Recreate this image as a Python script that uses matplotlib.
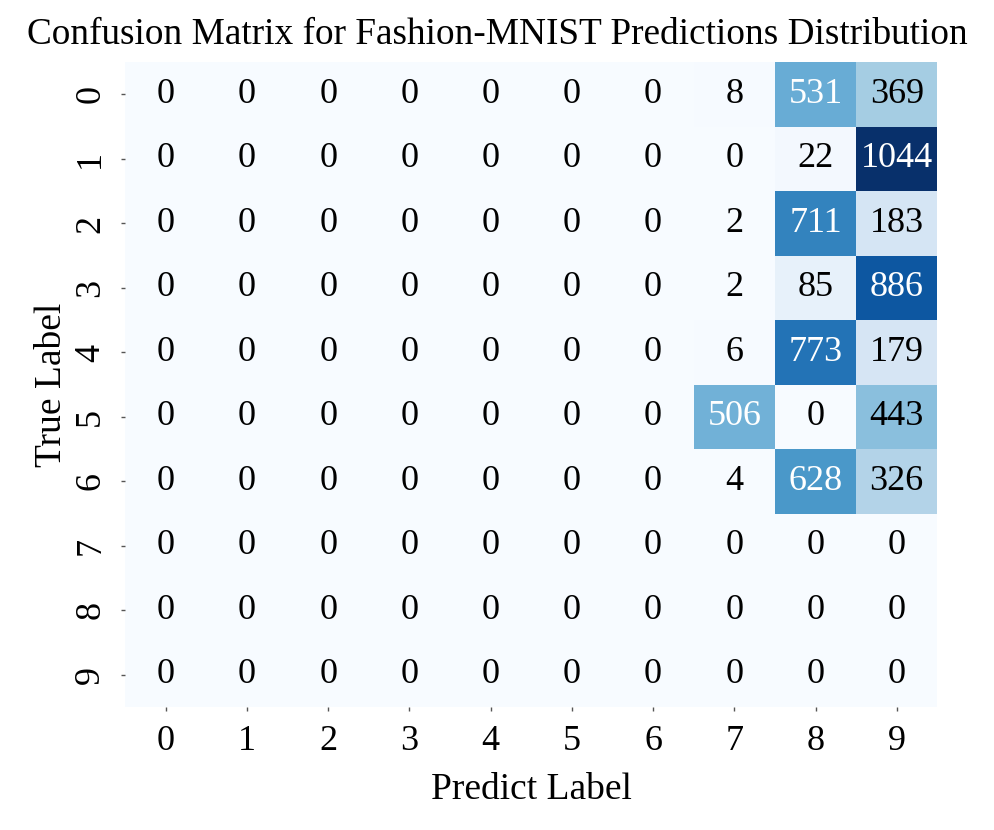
import numpy as np
import matplotlib
matplotlib.use("Agg")
import matplotlib.pyplot as plt
import seaborn as sns

labels = [str(i) for i in range(10)]
cm = np.array([
    [0, 0, 0, 0, 0, 0, 0, 8, 531, 369],
    [0, 0, 0, 0, 0, 0, 0, 0, 22, 1044],
    [0, 0, 0, 0, 0, 0, 0, 2, 711, 183],
    [0, 0, 0, 0, 0, 0, 0, 2, 85, 886],
    [0, 0, 0, 0, 0, 0, 0, 6, 773, 179],
    [0, 0, 0, 0, 0, 0, 0, 506, 0, 443],
    [0, 0, 0, 0, 0, 0, 0, 4, 628, 326],
    [0, 0, 0, 0, 0, 0, 0, 0, 0, 0],
    [0, 0, 0, 0, 0, 0, 0, 0, 0, 0],
    [0, 0, 0, 0, 0, 0, 0, 0, 0, 0],
])

plt.rcParams['font.family'] = ['Liberation Serif', 'DejaVu Serif']

fig = plt.figure(figsize=(9.94, 8.3), dpi=100)
ax = fig.add_axes([0.126, 0.148, 0.817, 0.777])
sns.heatmap(cm, annot=True, fmt='d', cmap='Blues', cbar=False, ax=ax,
            xticklabels=labels, yticklabels=labels,
            annot_kws={'fontsize': 26})
for t in ax.texts:
    c = matplotlib.colors.to_rgb(t.get_color())
    if sum(c) < 1.5:
        t.set_color('black')
fig.text(0.5, 0.958, 'Confusion Matrix for Fashion-MNIST Predictions Distribution',
         fontsize=26.8, ha='center', va='center')
ax.set_xlabel('Predict Label', fontsize=27, labelpad=10)
ax.set_ylabel('True Label', fontsize=27, labelpad=4)
ax.tick_params(axis='both', labelsize=26, length=3, width=1, color='#555555',
               labelcolor='black', pad=10)
ax.tick_params(axis='y', labelrotation=90)
fig.savefig('out.png', dpi=100)
